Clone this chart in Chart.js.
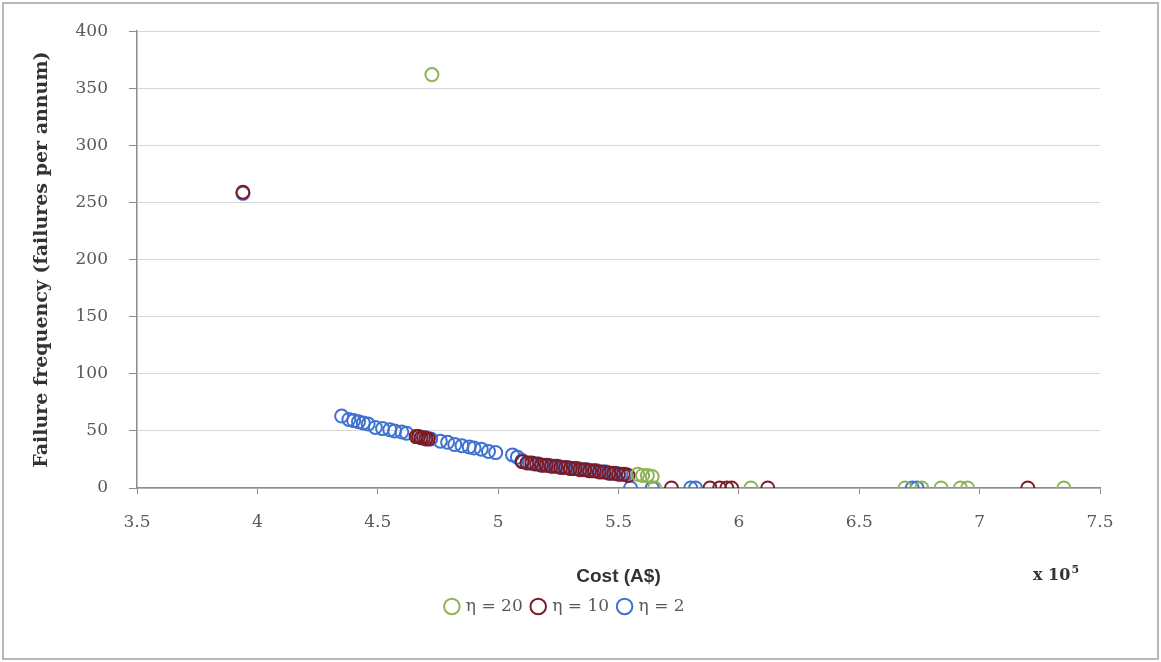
<!DOCTYPE html>
<html>
<head>
<meta charset="utf-8">
<script src="https://cdn.jsdelivr.net/npm/chart.js@4"></script>
<style>
  html, body { margin: 0; padding: 0; background: #ffffff; }
  #frame { position: absolute; left: 2px; top: 2px; width: 1153px; height: 654px; border: 2px solid #b8b8b8; }
  #wrap { position: absolute; left: 0; top: 0; width: 1161px; height: 662px; }
</style>
</head>
<body>
<div id="frame"></div>
<div id="wrap"><canvas id="chart" width="1161" height="662"></canvas></div>
<script>
// scatter of cost (x 10^5 A$) against failure frequency for three eta values

const seriesNames = ['η = 20', 'η = 10', 'η = 2'];
const seriesColors = ['#8fb356', '#7e1a24', '#3d72d2'];

const eta20Cost = [4.725, 5.58, 5.60, 5.62, 5.64, 5.65, 6.05, 6.69, 6.76, 6.84, 6.92, 6.95, 7.35];
const eta20Fail = [362, 12, 11, 11, 10, 0, 0, 0, 0, 0, 0, 0, 0];

const eta10Cost = [3.94, 4.66, 4.67, 4.68, 4.69, 4.70, 4.71, 5.10, 5.12, 5.14, 5.16, 5.18, 5.20, 5.22, 5.24, 5.26,
  5.28, 5.30, 5.32, 5.34, 5.36, 5.38, 5.40, 5.42, 5.44, 5.46, 5.48, 5.50, 5.52, 5.54,
  5.72, 5.88, 5.92, 5.95, 5.97, 6.12, 7.20];
const eta10Fail = [259, 45, 45, 44, 44, 43, 43, 23, 22, 22, 21, 20, 20, 19, 19, 18,
  18, 17, 17, 16, 16, 15, 15, 14, 14, 13, 13, 12, 12, 11,
  0, 0, 0, 0, 0, 0, 0];

const eta2Cost = [3.94, 4.35, 4.38, 4.40, 4.42, 4.44, 4.46, 4.49, 4.52, 4.55, 4.57, 4.60, 4.62, 4.66, 4.68, 4.70, 4.72,
  4.76, 4.79, 4.82, 4.85, 4.88, 4.90, 4.93, 4.96, 4.99, 5.06, 5.08, 5.10, 5.13, 5.15, 5.17, 5.19, 5.21, 5.23, 5.25,
  5.27, 5.29, 5.31, 5.33, 5.35, 5.37, 5.39, 5.41, 5.43, 5.45, 5.47, 5.49, 5.51, 5.53, 5.55, 5.64, 5.80, 5.82, 6.72, 6.74];
const eta2Fail = [258, 63, 60, 59, 58, 57, 56, 53, 52, 51, 50, 49, 48, 45, 44, 44, 43,
  41, 40, 38, 37, 36, 35, 34, 32, 31, 29, 27, 24, 22, 21, 21, 20, 20, 19, 19,
  18, 18, 17, 17, 16, 16, 15, 15, 14, 14, 13, 13, 12, 12, 0, 0, 0, 0, 0, 0];

const xTicks = [3.5, 4, 4.5, 5, 5.5, 6, 6.5, 7, 7.5];
const yTicks = [0, 50, 100, 150, 200, 250, 300, 350, 400];

function toPoints(xs, ys) {
  return xs.map((x, i) => ({ x: x, y: ys[i] }));
}

const allCost = [eta20Cost, eta10Cost, eta2Cost];
const allFail = [eta20Fail, eta10Fail, eta2Fail];

const serif = '"DejaVu Serif", serif';

// "x 10^5" multiplier under the right end of the x axis
const multiplierLabel = {
  id: 'multiplierLabel',
  afterDraw(chart) {
    const ctx = chart.ctx;
    const x = chart.scales.x;
    ctx.save();
    ctx.fillStyle = '#333333';
    ctx.textBaseline = 'alphabetic';
    ctx.font = 'bold 16px ' + serif;
    const base = 'x 10';
    const left = x.right - 67;
    const y = x.bottom - 8;
    ctx.fillText(base, left, y);
    const w = ctx.measureText(base).width;
    ctx.font = 'bold 11px ' + serif;
    ctx.fillText('5', left + w + 1, y - 7);
    ctx.restore();
  }
};

const ctx = document.getElementById('chart').getContext('2d');
const chart = new Chart(ctx, {
  type: 'scatter',
  data: {
    datasets: seriesNames.map((name, i) => ({
      label: name,
      data: toPoints(allCost[i], allFail[i]),
      borderColor: seriesColors[i],
      backgroundColor: 'rgba(255,255,255,0)',
      pointStyle: 'circle',
      pointRadius: 6.5,
      pointBorderWidth: 2,
      pointHoverRadius: 6.5
    }))
  },
  options: {
    responsive: false,
    animation: false,
    layout: { padding: { left: 31, right: 61, top: 22, bottom: 37 } },
    scales: {
      x: {
        type: 'linear',
        min: 3.5,
        max: 7.5,
        afterBuildTicks: (scale) => { scale.ticks = xTicks.map(v => ({ value: v })); },
        afterFit: (scale) => { scale.height = 100; },
        border: { color: '#8c8c8c', width: 1.5 },
        grid: { drawOnChartArea: false, drawTicks: true, tickLength: 6, color: '#8c8c8c' },
        ticks: {
          padding: 18,
          color: '#595959',
          font: { family: serif, size: 17 },
          callback: (v) => String(v)
        },
        title: {
          display: true,
          text: 'Cost (A$)',
          color: '#333333',
          font: { family: '"Liberation Sans", sans-serif', size: 19, weight: 'bold' },
          padding: { top: 0, bottom: 0 }
        }
      },
      y: {
        min: 0,
        max: 400,
        afterBuildTicks: (scale) => { scale.ticks = yTicks.map(v => ({ value: v })); },
        afterFit: (scale) => { scale.width = 106; },
        border: { color: '#8c8c8c', width: 1.5 },
        grid: { color: '#d6d6d6', tickColor: '#8c8c8c', tickLength: 8 },
        ticks: {
          padding: 21,
          color: '#595959',
          font: { family: serif, size: 17 }
        },
        title: {
          display: true,
          text: 'Failure frequency (failures per annum)',
          color: '#333333',
          font: { family: serif, size: 19, weight: 'bold' },
          padding: { top: 0, bottom: 0 }
        }
      }
    },
    plugins: {
      legend: {
        position: 'bottom',
        labels: {
          usePointStyle: true,
          pointStyle: 'circle',
          boxWidth: 11,
          boxHeight: 11,
          padding: 10,
          color: '#595959',
          font: { family: serif, size: 17 }
        }
      },
      tooltip: { enabled: false }
    }
  },
  plugins: [multiplierLabel]
});
</script>
</body>
</html>
